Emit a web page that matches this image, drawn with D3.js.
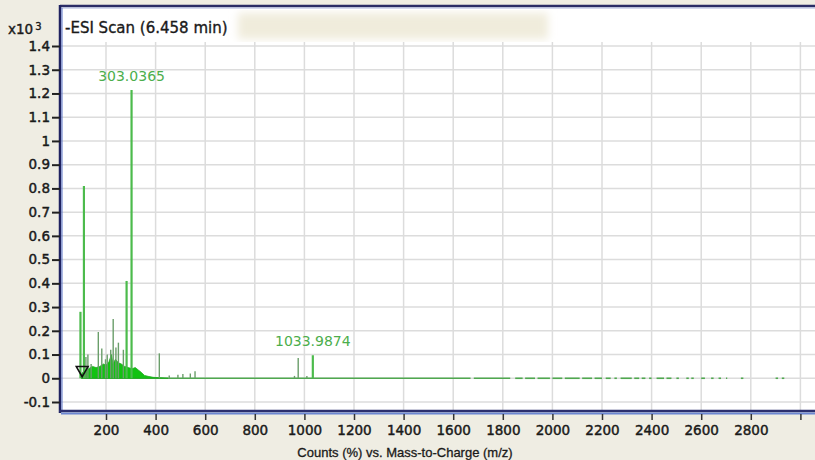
<!DOCTYPE html>
<html>
<head>
<meta charset="utf-8">
<script src="https://cdn.jsdelivr.net/npm/d3@7"></script>
<style>
  body { margin: 0; background: #efede3; }
  svg { display: block; }
  .tick text { font-family: "DejaVu Sans", sans-serif; font-size: 13.5px; fill: #1a1a1a; stroke: #1a1a1a; stroke-width: 0.45px; }
</style>
</head>
<body>
<div id="chart"></div>
<script>

// spectrum sticks: m/z and counts (x10^3)
var peakMz    = [97, 111, 119, 127, 140, 169, 183, 198, 205, 219, 229, 240, 250, 270, 283, 303.0365, 415, 455, 490, 510, 540, 559, 960, 975, 1010, 1033.9874];
var peakCount = [0.28, 0.81, 0.09, 0.10, 0.06, 0.195, 0.125, 0.08, 0.10, 0.12, 0.25, 0.13, 0.15, 0.12, 0.41, 1.215, 0.105, 0.012, 0.015, 0.018, 0.02, 0.03, 0.01, 0.085, 0.01, 0.097];
var strongPeaks = [97, 111, 283, 303.0365, 1033.9874];

// dense low-level cluster outline
var clusterMz    = [100, 103, 110, 120, 130, 145, 160, 175, 190, 200, 212, 222, 228, 238, 250, 262, 275, 290, 305, 318, 330, 342, 355, 370, 390, 420, 450];
var clusterCount = [0, 0.02, 0.03, 0.035, 0.04, 0.05, 0.045, 0.05, 0.06, 0.055, 0.07, 0.10, 0.06, 0.08, 0.065, 0.06, 0.05, 0.045, 0.04, 0.045, 0.035, 0.025, 0.012, 0.008, 0.004, 0.002, 0];

// baseline pieces (m/z start, end)
var baseStart = [100, 1683, 1850, 1890, 1940, 2000, 2050, 2120, 2170, 2215, 2250, 2275, 2330, 2360, 2390, 2420, 2460, 2500, 2540, 2560, 2600, 2640, 2670, 2700, 2760, 2900, 2925];
var baseEnd   = [1670, 1830, 1880, 1930, 1990, 2040, 2110, 2160, 2200, 2235, 2260, 2320, 2350, 2375, 2400, 2450, 2480, 2510, 2550, 2570, 2615, 2650, 2680, 2705, 2770, 2910, 2935];

var labelledMz = [303.0365, 1033.9874];
var labelText  = ["303.0365", "1033.9874"];
var markerMz = 104, markerCount = 0.035;

var yTicks = [-0.1, 0, 0.1, 0.2, 0.3, 0.4, 0.5, 0.6, 0.7, 0.8, 0.9, 1, 1.1, 1.2, 1.3, 1.4];
var xTicks = [200, 400, 600, 800, 1000, 1200, 1400, 1600, 1800, 2000, 2200, 2400, 2600, 2800, 3000];

var W = 815, H = 460;
var plot = { left: 61, top: 6, right: 815, bottom: 411 };

var svg = d3.select("#chart").append("svg")
    .attr("width", W)
    .attr("height", H);

var x = d3.scaleLinear().domain([0, 3000]).range([56.4, 800.4]);
var y = d3.scaleLinear().domain([-0.1, 1.4]).range([402, 46]);

var defs = svg.append("defs");
defs.append("filter").attr("id", "smudge")
    .append("feGaussianBlur").attr("stdDeviation", 4);
defs.append("clipPath").attr("id", "clip")
    .append("rect")
    .attr("x", plot.left).attr("y", plot.top)
    .attr("width", plot.right - plot.left).attr("height", plot.bottom - plot.top);

// plot background
svg.append("rect")
    .attr("x", plot.left).attr("y", plot.top)
    .attr("width", plot.right - plot.left).attr("height", plot.bottom - plot.top)
    .attr("fill", "#ffffff");

// gridlines
var grid = svg.append("g").attr("clip-path", "url(#clip)");
grid.selectAll(".hgrid").data(yTicks).enter().append("line")
    .attr("class", "hgrid")
    .attr("x1", plot.left).attr("x2", plot.right)
    .attr("y1", function(d) { return y(d); })
    .attr("y2", function(d) { return y(d); })
    .attr("stroke", "#dcdcdc").attr("stroke-width", 1.5);
grid.selectAll(".vgrid").data(xTicks).enter().append("line")
    .attr("class", "vgrid")
    .attr("x1", function(d) { return x(d); })
    .attr("x2", function(d) { return x(d); })
    .attr("y1", 42).attr("y2", plot.bottom)
    .attr("stroke", "#dcdcdc").attr("stroke-width", 1.5);

// redacted smudge next to title
svg.append("rect")
    .attr("x", 238).attr("y", 13)
    .attr("width", 310).attr("height", 26)
    .attr("fill", "#f0ecdc")
    .attr("filter", "url(#smudge)");

var g = svg.append("g").attr("clip-path", "url(#clip)");

// baseline
g.selectAll(".base").data(baseStart).enter().append("line")
    .attr("class", "base")
    .attr("x1", function(d) { return x(d); })
    .attr("x2", function(d, i) { return x(baseEnd[i]); })
    .attr("y1", y(0)).attr("y2", y(0))
    .attr("stroke", "#4fa84f").attr("stroke-width", 1.6);

// dense cluster
var cluster = clusterMz.map(function(d, i) { return { mz: d, v: clusterCount[i] }; });
g.append("path")
    .datum(cluster)
    .attr("fill", "#12c212")
    .attr("stroke", "#22a822")
    .attr("stroke-width", 0.8)
    .attr("d", d3.area()
        .x(function(d) { return x(d.mz); })
        .y0(y(0))
        .y1(function(d) { return y(d.v); }));

// sticks
g.selectAll(".peak").data(peakMz).enter().append("line")
    .attr("class", "peak")
    .attr("x1", function(d) { return x(d); })
    .attr("x2", function(d) { return x(d); })
    .attr("y1", y(0))
    .attr("y2", function(d, i) { return y(peakCount[i]); })
    .attr("stroke", function(d) { return strongPeaks.indexOf(d) >= 0 ? "#4cbb4c" : "#6a9e6a"; })
    .attr("stroke-width", function(d) { return strongPeaks.indexOf(d) >= 0 ? 2.2 : 1.4; });

// peak labels
svg.selectAll(".plabel").data(labelledMz).enter().append("text")
    .attr("class", "plabel")
    .attr("x", function(d) { return x(d); })
    .attr("y", function(d) { return y(peakCount[peakMz.indexOf(d)]) - 9; })
    .attr("text-anchor", "middle")
    .attr("font-family", "DejaVu Sans, sans-serif")
    .attr("font-size", 14)
    .attr("fill", "#4cae4c")
    .text(function(d, i) { return labelText[i]; });

// precursor marker
svg.append("path")
    .attr("d", d3.symbol().type(d3.symbolTriangle).size(60))
    .attr("transform", "translate(" + x(markerMz) + "," + y(markerCount) + ") rotate(180)")
    .attr("fill", "none")
    .attr("stroke", "#111")
    .attr("stroke-width", 1.6);

// frame
svg.append("line")
    .attr("x1", plot.left - 1).attr("x2", plot.right)
    .attr("y1", plot.top).attr("y2", plot.top)
    .attr("stroke", "#2a2c66").attr("stroke-width", 2.5);
svg.append("line")
    .attr("x1", plot.left - 1).attr("x2", plot.right)
    .attr("y1", plot.top + 2).attr("y2", plot.top + 2)
    .attr("stroke", "#a9b4dc").attr("stroke-width", 1);
svg.append("line")
    .attr("x1", plot.left - 1).attr("x2", plot.left - 1)
    .attr("y1", plot.top - 1).attr("y2", plot.bottom + 2)
    .attr("stroke", "#1f2260").attr("stroke-width", 2.5);
svg.append("line")
    .attr("x1", plot.left + 1).attr("x2", plot.left + 1)
    .attr("y1", plot.top + 2).attr("y2", plot.bottom)
    .attr("stroke", "#5a74c8").attr("stroke-width", 1);
svg.append("line")
    .attr("x1", plot.left - 2).attr("x2", plot.right)
    .attr("y1", plot.bottom).attr("y2", plot.bottom)
    .attr("stroke", "#2b2f6e").attr("stroke-width", 2.5);
svg.append("line")
    .attr("x1", plot.left).attr("x2", plot.right)
    .attr("y1", plot.bottom + 2.5).attr("y2", plot.bottom + 2.5)
    .attr("stroke", "#6b86d2").attr("stroke-width", 2);

// axes
var yAxis = d3.axisLeft(y)
    .tickValues(yTicks)
    .tickSize(8)
    .tickPadding(2)
    .tickFormat(function(d) { return d === 0 ? "0" : String(+d.toFixed(1)); });
svg.append("g")
    .attr("class", "y-axis")
    .attr("transform", "translate(" + (plot.left - 1) + ",0)")
    .call(yAxis)
    .call(function(a) {
        a.select(".domain").remove();
        a.selectAll(".tick line").attr("stroke", "#222").attr("stroke-width", 2);
    });

var xAxis = d3.axisBottom(x)
    .tickValues(xTicks)
    .tickSize(6)
    .tickPadding(5)
    .tickFormat(function(d) { return d === 3000 ? "" : d; });
svg.append("g")
    .attr("class", "x-axis")
    .attr("transform", "translate(0," + (plot.bottom + 3) + ")")
    .call(xAxis)
    .call(function(a) {
        a.select(".domain").remove();
        a.selectAll(".tick line").attr("stroke", "#333").attr("stroke-width", 1.5);
    });

// texts
svg.append("text")
    .attr("x", 65).attr("y", 33)
    .attr("font-family", "DejaVu Sans, sans-serif")
    .attr("font-size", 15)
    .attr("fill", "#1a1a1a")
    .attr("stroke", "#1a1a1a")
    .attr("stroke-width", 0.35)
    .text("-ESI Scan (6.458 min)");

var mult = svg.append("text")
    .attr("x", 8).attr("y", 34)
    .attr("font-family", "DejaVu Sans, sans-serif")
    .attr("font-size", 13.5)
    .attr("fill", "#1a1a1a")
    .attr("stroke", "#1a1a1a")
    .attr("stroke-width", 0.4);
mult.append("tspan").text("x10");
mult.append("tspan").attr("dx", 2).attr("dy", -4).attr("font-size", 10).text("3");

svg.append("text")
    .attr("x", 405).attr("y", 457)
    .attr("text-anchor", "middle")
    .attr("font-family", "Liberation Sans, Arial, sans-serif")
    .attr("font-size", 13)
    .attr("fill", "#1a1a1a")
    .attr("stroke", "#1a1a1a")
    .attr("stroke-width", 0.3)
    .text("Counts (%) vs. Mass-to-Charge (m/z)");

</script>
</body>
</html>
